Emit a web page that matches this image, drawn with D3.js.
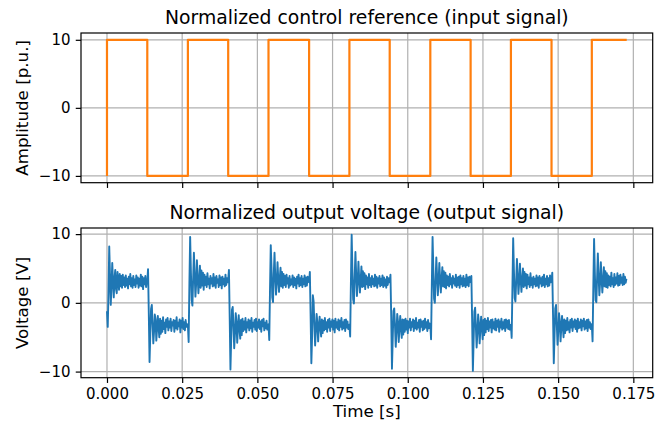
<!DOCTYPE html>
<html>
<head>
<meta charset="utf-8">
<script src="https://d3js.org/d3.v7.min.js"></script>
<style>
body { margin: 0; background: #fff; }
svg { display: block; font-family: 'DejaVu Sans', sans-serif; }
.tick text { font-size: 15px; fill: #000; }
</style>
</head>
<body>
<div id="chart"></div>
<script>
// ---- data ----
// control reference: switching instants [s] and level after each switch
var refTimes  = [0, 0.0134, 0.0269, 0.0403, 0.0537, 0.0672, 0.0806, 0.0940, 0.1075, 0.1209, 0.1343, 0.1478, 0.1612];
var refLevels = [10, -10, 10, -10, 10, -10, 10, -10, 10, -10, 10, -10, 10];
var refStart = -10, refEnd = 0.1728;

// output voltage, sampled every sampleStep seconds from each switching instant
var sampleStep = 0.00025;
var volt0  = [-1.2, -3.5, 1.5, 8.2, 4.0, -0.3, 2.4, 5.8, 3.1, 0.8, 3.6, 4.8, 2.0, 1.4, 4.5, 3.2, 1.9, 4.2, 2.4, 3.9, 2.2, 4.1, 2.6, 3.7, 2.3, 4.0, 2.5, 3.5, 2.1, 3.8, 2.7, 4.2, 2.4, 3.6, 2.2, 3.9, 2.6, 3.4, 2.3, 4.0, 2.8, 3.7, 2.2, 3.5, 2.5, 4.1, 2.4, 3.8, 2.0, 3.6, 2.7, 3.9, 2.3, 3.4];
var volt1  = [3.2, 4.9, -1.5, -8.6, -4.6, -0.9, -0.3, -3.0, -5.9, -4.2, -1.7, -2.4, -5.5, -3.8, -1.9, -3.6, -5.0, -2.3, -4.5, -2.6, -4.2, -2.1, -3.8, -2.9, -4.4, -2.4, -3.5, -2.2, -4.0, -2.7, -3.6, -2.3, -4.1, -2.8, -3.3, -2.5, -4.2, -2.6, -3.7, -2.1, -3.9, -2.9, -3.4, -2.4, -4.3, -2.6, -3.6, -2.2, -3.8, -2.8, -4.0, -2.5, -3.5, -3.1];
var volt2  = [-3.3, -5.7, 2.8, 9.6, 4.6, 0.4, -0.4, 3.5, 7.3, 4.1, 0.9, 2.8, 6.2, 3.6, 1.4, 3.3, 5.4, 2.2, 4.7, 2.5, 4.4, 1.9, 4.1, 2.6, 3.8, 2.3, 4.3, 2.7, 3.5, 2.1, 3.9, 2.8, 3.6, 2.4, 4.2, 2.5, 3.7, 2.2, 3.9, 2.9, 3.4, 2.3, 4.0, 2.6, 3.7, 2.1, 3.8, 2.7, 3.5, 2.4, 4.1, 2.6, 3.6, 3.0];
var volt3  = [3.3, 4.8, -2.2, -9.7, -5.2, -1.0, -0.6, -3.4, -6.6, -4.5, -1.5, -2.8, -5.8, -3.6, -1.8, -3.9, -5.2, -2.5, -4.7, -2.3, -4.1, -2.7, -3.9, -2.2, -4.3, -2.8, -3.6, -2.4, -4.0, -2.6, -3.7, -2.2, -4.2, -2.9, -3.5, -2.5, -3.9, -2.3, -4.1, -2.8, -3.6, -2.4, -3.8, -2.7, -4.2, -2.5, -3.4, -2.3, -4.0, -2.9, -3.7, -2.6, -3.9, -3.2];
var volt4  = [-3.1, -5.4, 1.9, 8.4, 5.2, 0.8, 0.1, 4.1, 7.3, 3.8, 1.2, 3.0, 5.9, 3.4, 1.6, 3.6, 5.1, 2.4, 4.5, 2.2, 4.2, 2.6, 3.9, 2.3, 4.1, 2.8, 3.6, 2.2, 3.9, 2.5, 3.4, 2.7, 4.0, 2.3, 3.7, 2.6, 3.5, 2.1, 3.8, 2.8, 4.1, 2.4, 3.6, 2.6, 3.9, 2.3, 3.5, 2.7, 4.0, 2.4, 3.7, 2.5, 3.8, 3.1];
var volt5  = [3.0, 4.5, -1.8, -8.8, -4.9, 1.1, 0.2, -3.2, -6.2, -4.0, -1.6, -2.9, -5.6, -3.5, -2.0, -3.7, -4.9, -2.4, -4.4, -2.6, -4.0, -2.2, -3.8, -2.8, -4.2, -2.5, -3.6, -2.3, -4.1, -2.7, -3.5, -2.4, -3.9, -2.6, -4.3, -2.3, -3.6, -2.8, -3.8, -2.4, -4.0, -2.6, -3.5, -2.2, -3.9, -2.8, -3.7, -2.5, -4.1, -2.4, -3.6, -2.7, -3.8, -3.3];
var volt6  = [-3.2, -4.9, 3.0, 9.9, 4.8, 0.5, -0.1, 3.6, 7.4, 4.2, 1.0, 2.9, 6.0, 3.5, 1.5, 3.4, 5.3, 2.3, 4.6, 2.4, 4.3, 2.0, 4.0, 2.7, 3.7, 2.2, 4.2, 2.6, 3.6, 2.3, 3.9, 2.7, 3.5, 2.4, 4.1, 2.5, 3.8, 2.2, 3.6, 2.8, 3.9, 2.4, 3.5, 2.6, 4.0, 2.3, 3.7, 2.5, 3.4, 2.2, 3.8, 2.6, 3.6, 3.0];
var volt7  = [3.1, 4.1, -2.0, -9.6, -5.3, -1.2, -0.8, -3.3, -6.4, -4.3, -1.6, -2.7, -5.7, -3.7, -1.9, -3.8, -5.1, -2.4, -4.6, -2.5, -4.2, -2.3, -3.9, -2.6, -4.4, -2.7, -3.6, -2.3, -4.0, -2.8, -3.5, -2.4, -4.1, -2.6, -3.7, -2.2, -3.9, -2.9, -3.6, -2.5, -4.2, -2.4, -3.5, -2.7, -4.0, -2.6, -3.8, -2.3, -3.6, -2.8, -4.1, -2.5, -3.7, -3.0];
var volt8  = [-3.3, -5.3, 2.5, 9.6, 5.0, 0.6, 0.0, 3.3, 6.6, 3.9, 1.1, 3.1, 5.8, 3.5, 1.5, 3.5, 5.2, 2.4, 4.6, 2.3, 4.4, 2.1, 4.0, 2.6, 3.8, 2.4, 4.2, 2.7, 3.6, 2.2, 3.9, 2.8, 3.5, 2.5, 4.1, 2.3, 3.7, 2.6, 3.8, 2.2, 4.0, 2.7, 3.6, 2.4, 3.9, 2.5, 3.5, 2.3, 4.1, 2.6, 3.7, 2.4, 3.8, 3.1];
var volt9  = [3.0, 3.9, -2.4, -9.9, -5.5, -1.3, -0.7, -3.5, -6.5, -4.4, -1.7, -2.9, -5.9, -3.8, -2.0, -3.6, -5.3, -2.5, -4.7, -2.3, -4.3, -2.6, -3.8, -2.2, -4.1, -2.7, -3.6, -2.5, -4.3, -2.4, -3.7, -2.8, -3.9, -2.3, -4.0, -2.6, -3.5, -2.4, -4.2, -2.7, -3.6, -2.3, -3.9, -2.8, -3.7, -2.5, -4.1, -2.4, -3.6, -2.6, -3.8, -2.5, -3.9, -3.2];
var volt10 = [-3.2, -5.1, 2.2, 9.4, 4.7, 0.7, 0.2, 3.2, 6.4, 4.0, 1.3, 3.0, 5.7, 3.3, 1.6, 3.5, 5.0, 2.3, 4.5, 2.5, 4.2, 2.1, 4.1, 2.7, 3.7, 2.3, 4.3, 2.6, 3.6, 2.2, 3.8, 2.7, 3.5, 2.4, 4.0, 2.5, 3.7, 2.2, 3.9, 2.8, 3.6, 2.4, 3.8, 2.6, 4.1, 2.3, 3.5, 2.7, 3.9, 2.4, 3.6, 2.5, 4.0, 3.0];
var volt11 = [3.1, 4.4, -1.7, -8.8, -4.8, -0.8, -0.3, -3.1, -6.1, -4.1, -1.5, -2.7, -5.6, -3.6, -1.9, -3.5, -5.0, -2.4, -4.4, -2.6, -4.0, -2.2, -3.9, -2.8, -4.3, -2.5, -3.6, -2.3, -4.1, -2.7, -3.5, -2.4, -3.8, -2.6, -4.2, -2.3, -3.7, -2.8, -3.6, -2.4, -4.0, -2.6, -3.4, -2.3, -3.9, -2.7, -3.7, -2.5, -4.1, -2.4, -3.6, -2.8, -3.8, -3.1];
var volt12 = [-3.2, -5.6, 2.4, 9.3, 4.5, 0.4, 0.1, 3.6, 7.2, 4.0, 1.1, 2.9, 5.9, 3.4, 1.5, 3.4, 5.2, 2.4, 4.6, 2.3, 4.3, 2.2, 4.0, 2.6, 3.8, 2.4, 4.4, 2.7, 3.6, 2.3, 4.2, 2.6, 3.7, 2.8, 4.3, 2.5, 3.9, 2.6, 4.1, 2.9, 3.7, 2.6, 4.2, 2.7, 3.8, 2.9, 3.5];
var voltSegments = [volt0, volt1, volt2, volt3, volt4, volt5, volt6, volt7, volt8, volt9, volt10, volt11, volt12];

var xTicks = [0, 0.025, 0.05, 0.075, 0.1, 0.125, 0.15, 0.175];
var yTicks = [-10, 0, 10];

// ---- build point lists ----
var refPts = [{t: 0, v: refStart}];
refTimes.forEach(function(t, i) { refPts.push({t: t, v: refLevels[i]}); });
refPts.push({t: refEnd, v: refLevels[refLevels.length - 1]});

var outPts = [];
voltSegments.forEach(function(seg, k) {
  seg.forEach(function(v, i) { outPts.push({t: refTimes[k] + i * sampleStep, v: v}); });
});

// ---- layout ----
var W = 668, H = 427;
var left = 81, right = 652.7;
var top1 = 33, bot1 = 182.7, top2 = 228, bot2 = 377.7;

var svg = d3.select("#chart").append("svg").attr("width", W).attr("height", H);

var tExt = d3.extent(outPts.concat(refPts), function(d) { return d.t; });
var tPad = (tExt[1] - tExt[0]) * 0.05;
var x = d3.scaleLinear().domain([tExt[0] - tPad, tExt[1] + tPad]).range([left, right]);

function panel(y0, y1, pts, color, title, ylabel, showX) {
  var ext = d3.extent(pts, function(d) { return d.v; });
  var pad = (ext[1] - ext[0]) * 0.05;
  var y = d3.scaleLinear().domain([ext[0] - pad, ext[1] + pad]).range([y1, y0]);
  var g = svg.append("g");

  // grid
  g.selectAll(".gx").data(xTicks).enter().append("line")
    .attr("x1", x).attr("x2", x).attr("y1", y0).attr("y2", y1)
    .attr("stroke", "#b0b0b0").attr("stroke-width", 1.2);
  g.selectAll(".gy").data(yTicks).enter().append("line")
    .attr("x1", left).attr("x2", right).attr("y1", y).attr("y2", y)
    .attr("stroke", "#b0b0b0").attr("stroke-width", 1.2);

  var line = d3.line()
    .x(function(d) { return x(d.t); })
    .y(function(d) { return y(d.v); });
  if (color === "#ff7f0e") line.curve(d3.curveStepAfter);
  g.append("path").datum(pts)
    .attr("d", line)
    .attr("fill", "none")
    .attr("stroke", color)
    .attr("stroke-width", color === "#ff7f0e" ? 2.2 : 1.9)
    .attr("stroke-linejoin", "round");

  // frame
  g.append("rect").attr("x", left).attr("y", y0)
    .attr("width", right - left).attr("height", y1 - y0)
    .attr("fill", "none").attr("stroke", "#000").attr("stroke-width", 1.2);

  var xa = d3.axisBottom(x).tickValues(xTicks).tickSize(5.25).tickPadding(5.25)
    .tickFormat(showX ? d3.format(".3f") : function() { return ""; });
  var gx = g.append("g").attr("transform", "translate(0," + y1 + ")").call(xa);
  var ya = d3.axisLeft(y).tickValues(yTicks).tickSize(5.25).tickPadding(5.25);
  var gy = g.append("g").attr("transform", "translate(" + left + ",0)").call(ya);
  [gx, gy].forEach(function(a) {
    a.select(".domain").remove();
    a.selectAll(".tick line").attr("stroke", "#000").attr("stroke-width", 1.2);
    a.selectAll(".tick text").style("font-family", "DejaVu Sans").style("font-size", "15px");
  });

  g.append("text").attr("x", (left + right) / 2).attr("y", y0 - 9)
    .attr("text-anchor", "middle").style("font-size", "18.8px").text(title);
  g.append("text")
    .attr("transform", "translate(28," + ((y0 + y1) / 2) + ") rotate(-90)")
    .attr("text-anchor", "middle").style("font-size", "16.7px").text(ylabel);
}

panel(top1, bot1, refPts, "#ff7f0e", "Normalized control reference (input signal)", "Amplitude [p.u.]", false);
panel(top2, bot2, outPts, "#1f77b4", "Normalized output voltage (output signal)", "Voltage [V]", true);

svg.append("text").attr("x", (left + right) / 2).attr("y", 417)
  .attr("text-anchor", "middle").style("font-size", "16.7px").text("Time [s]");
</script>
</body>
</html>
